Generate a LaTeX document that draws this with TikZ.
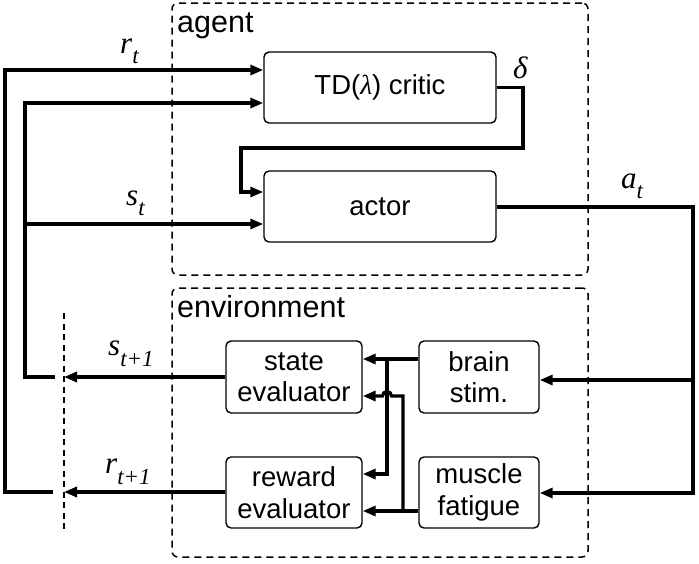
\documentclass[tikz,border=0pt]{standalone}
\usepackage{fontspec}
\setmainfont{Liberation Sans}
\newfontfamily\tms{Liberation Serif}
\usetikzlibrary{arrows.meta}
\newcommand\boxfont{\fontsize{27.5}{31.5}\selectfont}
\newcommand\grpfont{\fontsize{30.5}{34}\selectfont}
\newcommand\lab[3][-10pt]{{\tms\fontsize{31}{31}\selectfont\itshape #2}\raisebox{#1}{\tms\fontsize{23}{23}\selectfont\itshape #3}}
\tikzset{
  blk/.style={draw, line width=1.4pt, rounded corners=5pt, align=center, font=\boxfont, inner sep=0pt},
  grp/.style={draw, line width=1.5pt, dash pattern=on 7pt off 5pt, rounded corners=6pt, inner sep=0pt},
  grplabel/.style={anchor=base west, font=\grpfont, inner sep=0pt},
  wire/.style={line width=3.2pt},
  arr/.style={-{Triangle[length=13pt,width=10pt]}},
  cutline/.style={line width=1.2pt, dash pattern=on 6pt off 4.5pt},
  sig/.style={anchor=base west, inner sep=0pt}
}
\begin{document}
\begin{tikzpicture}[x=1pt,y=-1pt]
\useasboundingbox (0,0) rectangle (699,563);
% group boxes
\node[grp, minimum width=416pt, minimum height=272pt] (agent) at (380,139) {};
\node[grp, minimum width=416pt, minimum height=269pt] (env) at (380,422.5) {};
\node[grplabel] (agentlbl) at (177,32) {agent};
\node[grplabel] (envlbl) at (177,317) {environment};
% blocks
\node[blk, minimum width=232pt, minimum height=71pt] (critic) at (380,87.5) {TD({\tms\itshape λ}) critic};
\node[blk, minimum width=232pt, minimum height=71pt] (actor) at (380,206.5) {actor};
\node[blk, minimum width=136pt, minimum height=72pt] (state) at (294,377) {state\\evaluator};
\node[blk, minimum width=136pt, minimum height=71pt] (reward) at (294,492.5) {reward\\evaluator};
\node[blk, minimum width=120pt, minimum height=72pt] (brain) at (479,377) {brain\\stim.};
\node[blk, minimum width=120pt, minimum height=71pt] (muscle) at (479,492.5) {muscle\\fatigue};
% helper coordinates
\coordinate (cut) at (64,0);
\coordinate (rgap) at (53,492);
\coordinate (sgap) at (55,377);
\coordinate (hopR) at (391.5,396);
% cut line
\draw[cutline] (64,313) -- (64,530);
% feedback loops
\draw[wire,arr] (rgap) -| (5,70) -- (critic.west |- 0,70);
\draw[wire,arr] (sgap) -| (25,103) -- (critic.west |- 0,103);
\draw[wire,arr] (25,224) -- (actor.west |- 0,224);
% delta
\draw[wire,arr] (critic.east) -| (523,148) -| (241,192) -- (actor.west |- 0,192);
% action
\draw[wire,arr] (actor.east |- 0,207) -| (693,493) -- (muscle.east |- 0,493);
\draw[wire,arr] (693,380) -- (brain.east |- 0,380);
% environment internals
\draw[wire,arr] (brain.west |- 0,359) -- (state.east |- 0,359);
\draw[wire,arr] (387,359) -- (387,474) -- (reward.east |- 0,474);
\draw[wire,arr] (muscle.west |- 0,511) -- (reward.east |- 0,511);
\draw[wire,arr] (403,511) -- (403,396) -- (hopR) arc[start angle=0, end angle=-180, radius=4.5] -- (state.east |- 0,396);
% outputs of environment
\draw[wire,arr] (state.west) -- (state.west -| cut);
\draw[wire,arr] (reward.west |- 0,492) -- (cut |- 0,492);
% signal labels
\node[sig] (lrt) at (120,53) {\lab{r}{t}};
\node[sig] (lst) at (126,205) {\lab{s}{t}};
\node[sig] (lst1) at (108,355) {\lab[-11pt]{s}{t+1}};
\node[sig] (lrt1) at (105,473) {\lab[-11pt]{r}{t+1}};
\node[sig] (lat) at (621,188) {\lab{a}{t}};
\node[sig] (ldelta) at (513,78) {{\tms\fontsize{31}{31}\selectfont\itshape δ}};
\end{tikzpicture}
\end{document}
